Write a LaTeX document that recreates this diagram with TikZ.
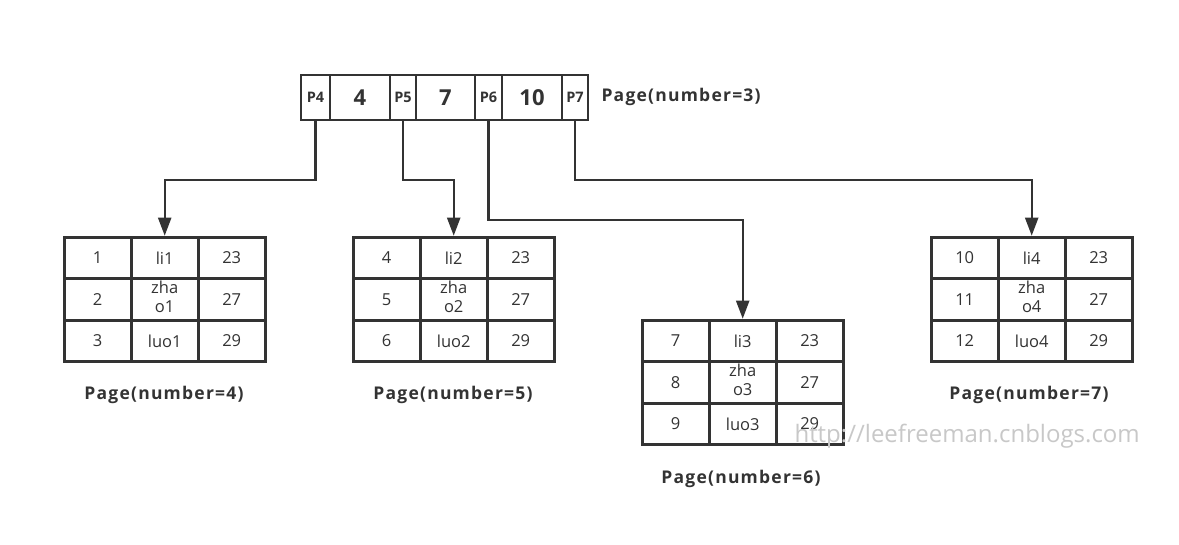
\documentclass[tikz,border=0pt]{standalone}
\usepackage{fontspec}
\setmainfont{Open Sans}
\newfontfamily\lblfont[LetterSpace=7]{Open Sans}
\usetikzlibrary{arrows.meta,matrix}
\definecolor{ink}{HTML}{333333}
\definecolor{wm}{HTML}{C8C8C8}
\newcommand\zh[1]{\begin{tabular}{@{}c@{}}zha\\o#1\end{tabular}}
\begin{document}
\begin{tikzpicture}[x=1pt,y=-1pt,
  cell/.style={draw=ink, line width=2.6pt, minimum width=67pt, minimum height=41.5pt,
    inner sep=0pt, font=\fontsize{16.5}{19}\selectfont, text=ink, anchor=center},
  tab/.style={matrix of nodes, nodes={cell}, column sep=-2.6pt, row sep=-2.6pt,
    anchor=north west, inner sep=0pt},
  ptr/.style={draw=ink, line width=2pt, minimum height=45pt, inner sep=0pt, anchor=north west,
    font=\bfseries\fontsize{14.5}{14.5}\selectfont, text=ink},
  key/.style={ptr, font=\bfseries\fontsize{22}{22}\selectfont},
  lbl/.style={font=\lblfont\bfseries\fontsize{17.5}{17.5}\selectfont, text=ink},
  conn/.style={draw=ink, line width=2.2pt, -{Triangle[length=18pt,width=13pt]}}]
\useasboundingbox[fill=white] (0,0) rectangle (1179,544);
% root page
\node[ptr, minimum width=29pt] (p4) at (300,74) {P4};
\node[key, minimum width=60pt] (k4) at (329,74) {4};
\node[ptr, minimum width=26pt] (p5) at (389,74) {P5};
\node[key, minimum width=59pt] (k7) at (415,74) {7};
\node[ptr, minimum width=27pt] (p6) at (474,74) {P6};
\node[key, minimum width=60pt] (k10) at (501,74) {10};
\node[ptr, minimum width=26pt] (p7) at (561,74) {P7};
\node[lbl, anchor=west] (l3) at (598,97) {Page(number=3)};
% leaf pages
\matrix (t4) [tab] at (62.7,235.7) {
  1 & li1 & 23 \\
  2 & \zh{1} & 27 \\
  3 & luo1 & 29 \\
};
\matrix (t5) [tab] at (351.7,235.7) {
  4 & li2 & 23 \\
  5 & \zh{2} & 27 \\
  6 & luo2 & 29 \\
};
\matrix (t6) [tab] at (640.7,318.7) {
  7 & li3 & 23 \\
  8 & \zh{3} & 27 \\
  9 & luo3 & 29 \\
};
\matrix (t7) [tab] at (929.7,235.7) {
  10 & li4 & 23 \\
  11 & \zh{4} & 27 \\
  12 & luo4 & 29 \\
};
\node[lbl] (l4) at (164,395) {Page(number=4)};
\node[lbl] (l5) at (453,395) {Page(number=5)};
\node[lbl] (l6) at (741,479) {Page(number=6)};
\node[lbl] (l7) at (1029,395) {Page(number=7)};
% connectors
\draw[conn] (p4.south) -- ++(0,59) -| (t4.north);
\draw[conn] (p5.south) -- ++(0,59) -| (t5.north);
\draw[conn] (p6.south) -- ++(0,99) -| (t6.north);
\draw[conn] (p7.south) -- ++(0,59) -| (t7.north);
% watermark
\node[text=wm, font=\fontsize{24}{24}\selectfont, anchor=west] (wmk) at (791,436) {http://leefreeman.cnblogs.com};
\end{tikzpicture}
\end{document}
